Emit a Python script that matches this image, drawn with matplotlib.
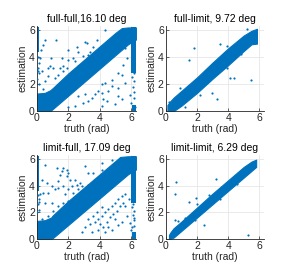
import matplotlib
matplotlib.use("Agg")
import matplotlib.pyplot as plt

plt.rcParams['font.family'] = ['Liberation Sans', 'DejaVu Sans']

titles = ["full-full,16.10 deg", "full-limit, 9.72 deg",
          "limit-full, 17.09 deg", "limit-limit, 6.29 deg"]
ticks = [0, 2, 4, 6]

# dense band: truth, lower estimate, upper estimate
band_x = [
    [0.0, 0.5, 0.85, 1.0, 1.5, 2.0, 3.0, 4.0, 5.0, 5.4, 5.8, 6.3],
    [0.1, 0.3, 0.5, 1.0, 2.0, 3.0, 4.0, 5.0, 5.5, 5.85],
    [0.0, 0.5, 0.9, 1.0, 1.5, 2.0, 3.0, 4.0, 5.0, 5.3, 5.8, 6.3],
    [0.2, 0.3, 0.5, 1.0, 2.0, 3.0, 4.0, 5.0, 5.5, 5.8],
]
band_lo = [
    [0.0, 0.0, 0.0, 0.15, 0.65, 1.15, 2.15, 3.15, 4.15, 4.55, 4.95, 5.3],
    [0.0, 0.0, 0.0, 0.4, 1.35, 2.4, 3.4, 4.45, 4.95, 5.0],
    [0.0, 0.0, 0.0, 0.05, 0.55, 1.05, 2.05, 3.05, 4.05, 4.35, 4.85, 5.2],
    [0.0, 0.0, 0.1, 0.6, 1.6, 2.6, 3.6, 4.6, 5.1, 5.4],
]
band_hi = [
    [1.3, 1.35, 1.55, 1.7, 2.25, 2.8, 3.8, 4.8, 5.8, 6.15, 6.2, 6.2],
    [0.45, 0.75, 1.0, 1.5, 2.5, 3.6, 4.65, 5.6, 5.95, 6.1],
    [1.35, 1.4, 1.6, 1.75, 2.3, 2.85, 3.85, 4.85, 5.85, 6.15, 6.2, 6.2],
    [0.3, 0.5, 0.8, 1.3, 2.35, 3.4, 4.4, 5.4, 5.8, 5.95],
]
# dense vertical streaks near the edges: (x0, x1, y0, y1)
streaks = [
    [(0.0, 0.16, 4.4, 6.2), (6.0, 6.28, 2.8, 6.2), (6.05, 6.3, 0.0, 0.45)],
    [],
    [(0.0, 0.14, 3.6, 6.2), (6.0, 6.28, 2.7, 6.2), (6.05, 6.3, 0.0, 0.5)],
    [],
]
# scattered outliers (truth, estimation)
out_x = [
    [1.19, 0.51, 0.40, 0.23, 0.89, 1.57, 2.0, 2.53, 3.06, 3.17, 3.6, 2.6, 2.96, 2.32, 2.43, 1.89,
     1.68, 1.47, 1.04, 0.72, 0.83, 0.30, 1.36, 0.72, 1.15, 0.51, 2.0, 3.28, 3.38, 3.81, 4.34,
     1.68, 2.64, 0.40, 0.30,
     4.13, 4.34, 4.77, 5.19, 5.40, 5.62, 5.19, 4.55, 4.13, 3.91, 3.70, 3.49, 3.28, 2.96, 2.64,
     3.06, 4.23, 4.45, 5.19, 5.40, 4.98, 4.13, 2.43, 2.0, 5.51, 5.72, 5.62, 4.77,
     6.05, 6.2, 6.1, 6.15, 6.2, 6.0, 6.25, 6.1, 6.2, 5.95,
     0.05, 0.12, 0.08, 0.15, 0.03, 0.1, 0.2, 0.06],
    [1.83, 1.5, 4.13, 4.39, 5.48, 3.29, 2.97, 3.5, 3.95, 0.3, 0.2, 0.9, 2.6, 4.8, 5.2, 1.2, 2.2,
     3.9],
    [0.51, 1.26, 1.68, 1.89, 1.57, 2.0, 1.47, 1.89, 2.11, 2.43, 2.74, 2.85, 3.28, 3.06, 2.64,
     2.32, 2.0, 1.68, 1.79, 1.36, 1.15, 0.94, 0.72, 0.51, 0.94, 1.36, 1.68, 2.0, 2.32, 1.04,
     0.72, 0.30, 3.06, 3.60, 3.81, 4.13, 4.77, 0.30, 0.40, 0.62, 3.28, 4.13, 1.36, 2.21, 2.53,
     3.06, 2.85, 3.38, 3.70, 3.91, 4.13, 4.34, 4.55, 4.77, 4.98, 5.19, 5.40, 5.62, 4.02, 4.23,
     4.45, 4.66, 4.87, 5.09, 5.30, 5.51, 4.34, 4.77, 5.40, 5.72, 5.19, 3.49, 3.91, 4.55, 4.98,
     5.62, 5.83, 3.60, 3.81, 4.13, 3.28,
     6.05, 6.2, 6.1, 6.15, 6.2, 6.0, 6.1, 6.2, 5.95, 6.05,
     0.05, 0.12, 0.08, 0.15, 0.03, 0.1, 0.2],
    [0.63, 0.58, 3.2, 1.5, 1.94, 2.42, 1.9, 5.3, 0.56, 0.75, 2.0, 3.5, 4.6, 1.2, 2.8],
]
out_y = [
    [5.27, 5.27, 4.90, 4.54, 3.93, 3.93, 4.54, 4.78, 5.15, 5.02, 4.78, 4.41, 4.05, 3.93, 3.68,
     3.20, 3.32, 3.20, 3.20, 3.20, 3.32, 2.95, 2.71, 2.59, 2.46, 2.22, 3.80, 4.17, 4.41, 5.27,
     6.0, 2.95, 3.32, 1.61, 1.12,
     1.98, 2.10, 2.34, 2.83, 2.71, 2.10, 1.73, 1.49, 1.37, 1.49, 1.24, 1.0, 0.76, 0.63, 1.12,
     1.24, 0.88, 0.76, 1.12, 0.88, 0.51, 0.39, 0.39, 0.27, 3.44, 3.93, 4.66, 1.85,
     2.5, 2.2, 1.8, 1.4, 1.0, 0.6, 0.3, 3.0, 2.8, 1.2,
     4.0, 3.6, 3.2, 2.8, 2.4, 2.0, 3.9, 3.0],
    [4.66, 3.8, 2.46, 2.46, 2.27, 0.86, 1.37, 4.99, 4.83, 0.15, 0.7, 1.7, 3.0, 4.2, 6.05, 0.3,
     1.2, 3.2],
    [5.56, 5.31, 5.31, 5.19, 5.07, 4.94, 4.82, 4.70, 4.45, 4.45, 4.21, 3.96, 4.08, 3.71, 3.71,
     3.47, 3.71, 3.96, 3.35, 3.84, 3.71, 3.96, 3.47, 2.73, 2.73, 2.48, 2.73, 2.85, 2.98, 2.12,
     1.75, 1.50, 5.44, 4.94, 4.45, 5.68, 5.93, 4.45, 3.47, 4.21, 4.94, 5.19, 4.33, 3.96, 4.08,
     0.89, 0.52, 1.13, 1.25, 1.50, 1.75, 1.99, 2.24, 2.48, 2.73, 2.98, 3.22, 3.35, 1.13, 0.89,
     1.25, 1.62, 1.87, 2.12, 2.48, 2.73, 0.52, 0.64, 1.25, 1.75, 1.01, 0.52, 0.64, 0.89, 1.50,
     2.48, 2.98, 1.75, 1.99, 2.36, 1.50,
     2.4, 2.1, 1.8, 1.4, 1.0, 0.7, 2.6, 1.6, 1.2, 0.9,
     3.3, 3.0, 2.6, 2.2, 2.0, 2.8, 3.4],
    [4.26, 3.4, 4.48, 2.8, 3.1, 1.07, 1.4, 0.3, 1.4, 1.35, 2.6, 3.0, 4.1, 1.6, 3.3],
]

blue = "#0072BD"
grey = "#262626"
positions = [
    [0.127, 0.587, 0.340, 0.316],
    [0.570, 0.587, 0.337, 0.316],
    [0.127, 0.112, 0.340, 0.312],
    [0.570, 0.112, 0.337, 0.312],
]

fig = plt.figure(figsize=(2.91, 2.69), dpi=100)
for i in range(4):
    ax = fig.add_axes(positions[i])
    ax.fill_between(band_x[i], band_lo[i], band_hi[i], color=blue, linewidth=0.8,
                    edgecolor=blue, zorder=2)
    for (x0, x1, y0, y1) in streaks[i]:
        ax.fill_between([x0, x1], [y0, y0], [y1, y1], color=blue,
                        linewidth=0, zorder=2)
    ax.scatter(out_x[i], out_y[i], s=2.5, color=blue, linewidths=0, zorder=3)
    ax.set_xlim(0, 6.3)
    ax.set_ylim(0, 6.3)
    ax.set_xticks(ticks)
    ax.set_yticks(ticks)
    ax.grid(True, color="#e6e6e6", linewidth=0.6, zorder=0)
    ax.set_axisbelow(True)
    for s in ["top", "right"]:
        ax.spines[s].set_visible(False)
    for s in ["left", "bottom"]:
        ax.spines[s].set_color(grey)
        ax.spines[s].set_linewidth(0.6)
    ax.tick_params(direction="in", length=2, width=0.5, colors=grey,
                   labelsize=7.5, pad=1.5)
    ax.set_xlabel("truth (rad)", fontsize=7.5, color=grey, labelpad=0.5)
    ax.set_ylabel("estimation", fontsize=7.5, color=grey, labelpad=1)
    ax.set_title(titles[i], fontsize=7.5, color="black", pad=3)

fig.savefig("out.png", dpi=100)
